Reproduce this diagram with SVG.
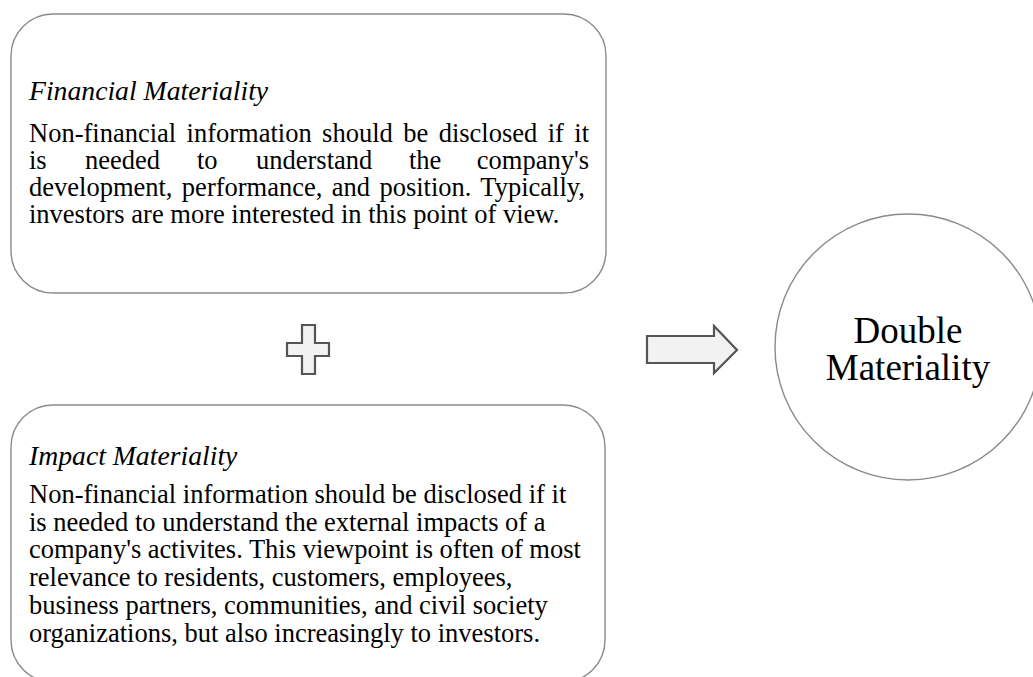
<svg xmlns="http://www.w3.org/2000/svg" width="1033" height="677" viewBox="0 0 1033 677">
  <style>
    .box { fill: #ffffff; stroke: #8a8a8a; stroke-width: 1.4; }
    .shape { fill: #f2f2f2; stroke: #555555; stroke-width: 2.2; stroke-linejoin: miter; }
    .head { font-family: "Liberation Serif", "Times New Roman", serif; font-style: italic; font-size: 27.7px; fill: #000; }
    .body { font-family: "Liberation Serif", "Times New Roman", serif; font-size: 26.5px; fill: #000; }
    .big { font-family: "Liberation Serif", "Times New Roman", serif; font-size: 37px; fill: #000; text-anchor: middle; }
  </style>
  <rect width="1033" height="677" fill="#ffffff"/>

  <!-- Financial materiality card (justified paragraph) -->
  <g id="financial-materiality">
    <rect class="box" x="11" y="14" width="595" height="279" rx="42" ry="42"/>
    <text class="head" x="29" y="100">Financial Materiality</text>
    <text class="body" x="29" y="142" word-spacing="3.8">Non-financial information should be disclosed if it</text>
    <text class="body" y="169">
      <tspan x="29">is</tspan>
      <tspan x="85">needed</tspan>
      <tspan x="197">to</tspan>
      <tspan x="256">understand</tspan>
      <tspan x="409">the</tspan>
      <tspan x="589" text-anchor="end">company's</tspan>
    </text>
    <text class="body" x="29" y="196" word-spacing="2.75">development, performance, and position. Typically,</text>
    <text class="body" x="29" y="223">investors are more interested in this point of view.</text>
  </g>

  <!-- Plus sign between the two cards -->
  <g id="plus">
    <polygon class="shape" points="302,325 315,325 315,343 329,343 329,356 315,356 315,374 302,374 302,356 287,356 287,343 302,343"/>
  </g>

  <!-- Impact materiality card (runs past the bottom edge) -->
  <g id="impact-materiality">
    <rect class="box" x="11" y="405" width="594" height="277" rx="42" ry="42"/>
    <text class="head" x="29" y="465">Impact Materiality</text>
    <text class="body" x="29" y="503">Non-financial information should be disclosed if it</text>
    <text class="body" x="29" y="531">is needed to understand the external impacts of a</text>
    <text class="body" x="29" y="558">company's activites. This viewpoint is often of most</text>
    <text class="body" x="29" y="586">relevance to residents, customers, employees,</text>
    <text class="body" x="29" y="614">business partners, communities, and civil society</text>
    <text class="body" x="29" y="642">organizations, but also increasingly to investors.</text>
  </g>

  <!-- Block arrow leading to the result -->
  <g id="connectors">
    <polygon class="shape" points="647,336 714,336 714,326 737,350 714,373 714,363 647,363"/>
  </g>

  <!-- Result circle -->
  <g id="double-materiality">
    <circle class="box" cx="908" cy="347" r="133"/>
    <text class="big" x="908" y="343">Double</text>
    <text class="big" x="908" y="380">Materiality</text>
  </g>
</svg>
